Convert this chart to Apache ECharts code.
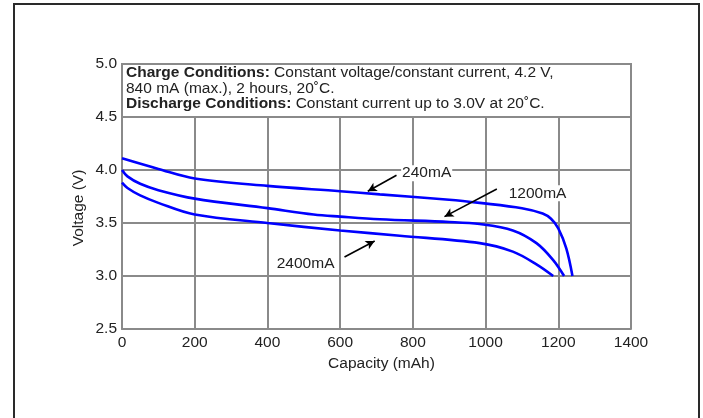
<!DOCTYPE html>
<html>
<head>
<meta charset="utf-8">
<script src="https://cdn.jsdelivr.net/npm/echarts@6/dist/echarts.min.js"></script>
<style>html,body{margin:0;padding:0;background:#fff;}#c{width:703px;height:418px;}</style>
</head>
<body>
<div id="c"></div>
<script>
// Data (capacity mAh, voltage V)
const curve240 = [[0,4.11],[100,4.01],[200,3.92],[400,3.85],[600,3.80],[709,3.77],[900,3.72],[984,3.69],[1100,3.64],[1157,3.59],[1180,3.54],[1200,3.45],[1222,3.26],[1239,3.0]];
const curve1200 = [[0,4.0],[15,3.94],[50,3.87],[100,3.81],[200,3.73],[400,3.64],[527,3.58],[600,3.56],[709,3.535],[900,3.51],[984,3.49],[1075,3.43],[1140,3.31],[1186,3.15],[1216,3.0]];
const curve2400 = [[0,3.88],[15,3.83],[50,3.76],[100,3.69],[200,3.58],[400,3.50],[600,3.43],[764,3.38],[984,3.31],[1075,3.23],[1140,3.11],[1186,3.0]];
const seriesNames = ['240mA','1200mA','2400mA'];
const xTicks = [0,200,400,600,800,1000,1200,1400];
const yTicks = [2.5,3.0,3.5,4.0,4.5,5.0];
// annotation labels [x, y, text] and arrows [from, to]
const labelPoints = [[838,3.97,'240mA'],[1143,3.78,'1200mA'],[505,3.12,'2400mA']];
const arrows = [[[755,3.95],[676,3.80]],[[1031,3.82],[887,3.56]],[[612,3.18],[695,3.33]]];
const noteLines = ['{b|Charge Conditions:} Constant voltage/constant current, 4.2 V,','840 mA (max.), 2 hours, 20˚C.','{b|Discharge Conditions:} Constant current up to 3.0V at 20˚C.'];
const noteBox = [[0,5.0],[1400,4.5]];

const gray = '#8a8a8a';
const FONT = 'Liberation Sans, Arial, sans-serif';
const FS = 15.5;
const TXT = '#222';
const chart = echarts.init(document.getElementById('c'), null, {renderer:'canvas'});
const lineStyle = {color:'#0000ff', width:2.6};
const mk = (name, data) => ({name, type:'line', data, smooth:0.35, showSymbol:false, symbol:'none', lineStyle, z:3, silent:true});
const series = [mk(seriesNames[0], curve240), mk(seriesNames[1], curve1200), mk(seriesNames[2], curve2400)];
series.push({
  type:'line', data:[], silent:true, z:4,
  markLine:{silent:true, symbol:['none','arrow'], symbolSize:[7,9], lineStyle:{color:'#000', width:1.6, type:'solid'}, label:{show:false},
    data: arrows.map(a => [{coord:a[0]},{coord:a[1]}])}
});

const axisFont = {color:TXT, fontSize:FS, fontFamily:FONT};
chart.setOption({
  animation:false,
  backgroundColor:'#fff',
  grid:{left:122, right:72, top:64, bottom:89, show:false},
  xAxis:{type:'value', min:0, max:1400, interval:200, name:'Capacity (mAh)', nameLocation:'middle', nameGap:25,
    nameTextStyle:Object.assign({}, axisFont, {padding:[0,0,0,10]}),
    axisLine:{show:true, onZero:false, lineStyle:{color:gray, width:2}}, axisTick:{show:false},
    axisLabel:Object.assign({margin:6, formatter:v=>String(v)}, axisFont),
    splitLine:{show:true, lineStyle:{color:gray, width:2}}},
  yAxis:{type:'value', min:2.5, max:5.0, interval:0.5,
    axisLine:{show:true, onZero:false, lineStyle:{color:gray, width:2}}, axisTick:{show:false},
    axisLabel:Object.assign({margin:5, formatter:v=>v.toFixed(1)}, axisFont),
    splitLine:{show:true, lineStyle:{color:gray, width:2}}},
  series
});

const p0 = chart.convertToPixel({gridIndex:0}, noteBox[0]);
const p1 = chart.convertToPixel({gridIndex:0}, noteBox[1]);
const graphics = [
  {type:'rect', shape:{x:p0[0], y:p0[1], width:p1[0]-p0[0], height:p1[1]-p0[1]}, style:{fill:'#fff', stroke:gray, lineWidth:2}, silent:true, z:1},
  {type:'text', x:p0[0]+4, y:p0[1]+1, silent:true, z:2,
    style:{text:noteLines.join('\n'), fill:TXT, fontSize:FS, fontFamily:FONT, lineHeight:15.5,
      rich:{b:{fontWeight:'bold', fontSize:FS, fontFamily:FONT, fill:TXT, lineHeight:15.5}}}},
  {type:'rect', shape:{x:14, y:4, width:685, height:430}, style:{fill:'none', stroke:'#2a2a2a', lineWidth:2}, silent:true, z:10},
  {type:'text', x:79, y:208, rotation:Math.PI/2, style:{text:'Voltage (V)', fill:TXT, fontSize:FS, fontFamily:FONT, align:'center', verticalAlign:'middle'}, silent:true}
];
labelPoints.forEach(lp => {
  const p = chart.convertToPixel({gridIndex:0}, [lp[0], lp[1]]);
  graphics.push({type:'text', x:p[0], y:p[1], silent:true, z:5,
    style:{text:lp[2], fill:TXT, fontSize:FS, fontFamily:FONT, align:'center', verticalAlign:'middle', backgroundColor:'#fff', padding:[0,1]}});
});
chart.setOption({graphic:graphics});
</script>
</body>
</html>
